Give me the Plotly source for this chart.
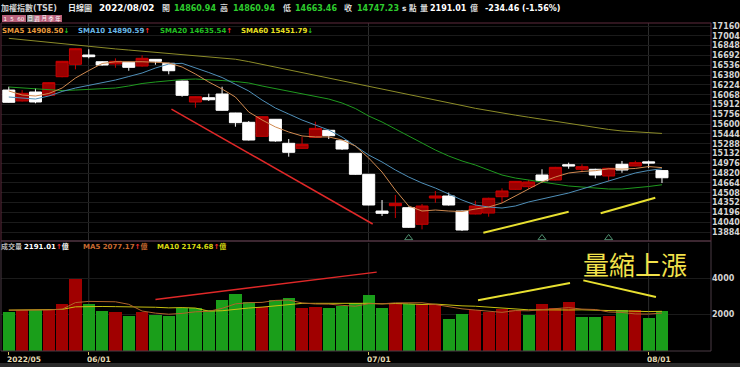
import plotly.graph_objects as go

# ---------------- data ----------------
dates = ["2022/05/24", "2022/05/25", "2022/05/26", "2022/05/27", "2022/05/30", "2022/05/31",
         "2022/06/01", "2022/06/02", "2022/06/06", "2022/06/07", "2022/06/08", "2022/06/09",
         "2022/06/10", "2022/06/13", "2022/06/14", "2022/06/15", "2022/06/16", "2022/06/17",
         "2022/06/20", "2022/06/21", "2022/06/22", "2022/06/23", "2022/06/24", "2022/06/27",
         "2022/06/28", "2022/06/29", "2022/06/30", "2022/07/01", "2022/07/04", "2022/07/05",
         "2022/07/06", "2022/07/07", "2022/07/08", "2022/07/11", "2022/07/12", "2022/07/13",
         "2022/07/14", "2022/07/15", "2022/07/18", "2022/07/19", "2022/07/20", "2022/07/21",
         "2022/07/22", "2022/07/25", "2022/07/26", "2022/07/27", "2022/07/28", "2022/07/29",
         "2022/08/01", "2022/08/02"]

opens = [16142, 15968, 16111, 16058, 16354, 16551, 16699, 16592, 16556, 16583,
         16524, 16630, 16567, 16285, 15952, 16020, 16079, 15777, 15629, 15406,
         15677, 15295, 15215, 15390, 15502, 15336, 15136, 14802, 14218, 14303,
         14271, 14007, 14425, 14457, 14218, 14171, 14186, 14446, 14563, 14605,
         14791, 14711, 14955, 14882, 14882, 14775, 14961, 14934, 15000, 14860.94]
highs = [16195, 16142, 16169, 16265, 16605, 16805, 16790, 16600, 16646, 16590,
         16694, 16635, 16575, 16290, 16040, 16084, 16195, 15780, 15650, 15725,
         15680, 15363, 15395, 15638, 15510, 15340, 15140, 14805, 14393, 14473,
         14290, 14330, 14537, 14510, 14225, 14382, 14430, 14579, 14695, 14711,
         14882, 14920, 14987, 14961, 14890, 14905, 15014, 15018, 15020, 14860.94]
lows = [15940, 15960, 15931, 16050, 16345, 16471, 16646, 16530, 16497, 16449,
        16515, 16545, 16392, 16036, 15861, 15968, 15815, 15559, 15340, 15400,
        15320, 15082, 15210, 15385, 15363, 15190, 14795, 14310, 14139, 14107,
        13950, 13927, 14350, 14305, 13900, 14165, 14128, 14350, 14555, 14568,
        14668, 14705, 14891, 14834, 14738, 14696, 14827, 14930, 14900, 14663.46]
closes = [15947, 16090, 15952, 16259, 16599, 16799, 16672, 16540, 16599, 16503,
          16646, 16599, 16449, 16058, 16036, 15988, 15820, 15623, 15347, 15718,
          15332, 15152, 15279, 15533, 15416, 15204, 14802, 14314, 14182, 14341,
          13959, 14298, 14457, 14314, 13916, 14298, 14421, 14537, 14690, 14680,
          14700, 14913, 14934, 14923, 14791, 14898, 14870, 14987, 14981.69, 14747.23]

sma5 = [16127, 16063, 16047, 16087, 16174, 16333, 16452, 16564, 16592, 16596,
        16592, 16583, 16572, 16508, 16397, 16270, 16158, 16031, 15793, 15666,
        15555, 15475, 15412, 15396, 15396, 15348, 15252, 15061, 14838, 14552,
        14298, 14218, 14234, 14218, 14210, 14250, 14282, 14346, 14457, 14568,
        14680, 14759, 14823, 14847, 14860, 14890, 14885, 14895, 14925, 14908.50]
sma10 = [16031, 16015, 15999, 16047, 16119, 16174, 16214, 16254, 16301, 16357,
         16413, 16492, 16556, 16567, 16500, 16421, 16341, 16238, 16127, 15983,
         15856, 15761, 15665, 15586, 15506, 15395, 15252, 15109, 14998, 14871,
         14759, 14664, 14584, 14489, 14393, 14314, 14282, 14266, 14298, 14362,
         14409, 14457, 14505, 14568, 14632, 14696, 14759, 14823, 14863, 14890.59]
sma20 = [16190, 16174, 16158, 16142, 16134, 16142, 16150, 16158, 16174, 16206,
         16246, 16270, 16293, 16309, 16317, 16309, 16293, 16278, 16254, 16206,
         16166, 16127, 16087, 16047, 15999, 15936, 15848, 15729, 15634, 15522,
         15411, 15300, 15188, 15093, 15014, 14950, 14870, 14791, 14743, 14711,
         14679, 14648, 14616, 14600, 14584, 14568, 14568, 14584, 14608, 14635.54]
sma60 = [16964, 16942, 16920, 16898, 16875, 16853, 16832, 16815, 16796, 16778,
         16759, 16742, 16723, 16705, 16686, 16669, 16650, 16632, 16594, 16551,
         16508, 16465, 16422, 16379, 16336, 16293, 16251, 16208, 16163, 16119,
         16074, 16030, 15985, 15941, 15896, 15851, 15812, 15777, 15743, 15710,
         15677, 15643, 15611, 15578, 15547, 15515, 15491, 15475, 15462, 15451.79]

volume = [2142, 2235, 2235, 2235, 2600, 3962, 2562, 2197, 2162, 1908,
          2126, 1980, 1908, 2380, 2343, 2271, 2780, 3143, 2707, 2416,
          2816, 2889, 2343, 2416, 2380, 2489, 2634, 3052, 2380, 2634,
          2598, 2562, 2562, 1780, 2053, 2271, 2162, 2325, 2271, 1980,
          2598, 2362, 2670, 1871, 1871, 1908, 2235, 2271, 1835, 2191.01]
vol_up = [0, 1, 0, 1, 1, 1, 0, 0, 1, 0,
          1, 0, 0, 0, 0, 0, 0, 0, 0, 1,
          0, 0, 1, 1, 0, 0, 0, 0, 0, 1,
          0, 1, 1, 0, 0, 1, 1, 1, 1, 0,
          1, 1, 1, 0, 0, 1, 0, 1, 0, 0]
vol_ma5 = [2235, 2235, 2240, 2250, 2289, 2653, 2719, 2711, 2697, 2558,
           2191, 2075, 2017, 2060, 2147, 2176, 2336, 2583, 2649, 2663,
           2772, 2794, 2634, 2576, 2569, 2503, 2452, 2594, 2587, 2638,
           2660, 2645, 2547, 2427, 2311, 2246, 2166, 2118, 2216, 2202,
           2267, 2307, 2376, 2296, 2274, 2136, 2111, 2031, 2024, 2077.17]
vol_ma10 = [2240, 2240, 2245, 2250, 2280, 2420, 2450, 2440, 2430, 2424,
            2422, 2397, 2364, 2379, 2353, 2184, 2206, 2300, 2355, 2405,
            2474, 2565, 2609, 2612, 2616, 2638, 2623, 2614, 2582, 2603,
            2582, 2549, 2571, 2507, 2474, 2453, 2405, 2333, 2322, 2256,
            2256, 2236, 2247, 2256, 2238, 2202, 2209, 2204, 2160, 2174.68]

price_ticks = [13884, 14040, 14196, 14352, 14508, 14664, 14820, 14976, 15132, 15288, 15444,
               15600, 15756, 15912, 16068, 16224, 16380, 16536, 16692, 16848, 17004, 17160]
volume_ticks = [2000, 4000]
date_tick_dates = ["2022/05/24", "2022/06/01", "2022/07/01", "2022/08/01"]
date_tick_labels = ["2022/05", "06/01", "07/01", "08/01"]
grid_dates = ["2022/06/01", "2022/07/01", "2022/08/01"]
marker_dates = ["2022/07/06", "2022/07/20", "2022/07/27"]
marker_price = [13790, 13790, 13790]

# hand-drawn annotation lines (index, value)
price_red_x, price_red_y = [12.2, 27.3], [15840, 14012]
price_yel1_x, price_yel1_y = [35.6, 42.0], [13873, 14207]
price_yel2_x, price_yel2_y = [44.4, 48.5], [14182, 14430]
vol_red_x, vol_red_y = [11.0, 27.6], [2818, 4322]
vol_yel1_x, vol_yel1_y = [35.2, 42.1], [2780, 3722]
vol_yel2_x, vol_yel2_y = [43.1, 48.55], [3870, 2959]
note_text = "量縮上漲"
note_x, note_y = 46.95, 4796

# ---------------- figure ----------------
W, H = 740, 367
ML, MR, MT, MB = 1, 29, 23, 16
PW, PH = W - ML - MR, H - MT - MB
idx = list(range(len(dates)))
pos = {d: i for i, d in enumerate(dates)}


def pxx(px):
    return (px - ML) / PW


def pxy(py):
    return (H - MB - py) / PH


price_dom = [pxy(241), 1]
vol_dom = [0, pxy(243)]

RED_BODY = "#9a0000"
RED_LINE = "#c80000"
GREEN_VOL = "#1a9e1a"
RED_VOL = "#a00000"
FONT = "DejaVu Sans, Noto Sans CJK TC"

fig = go.Figure()

fig.add_trace(go.Candlestick(
    x=idx, open=opens, high=highs, low=lows, close=closes,
    increasing=dict(line=dict(color=RED_LINE, width=1), fillcolor=RED_BODY),
    decreasing=dict(line=dict(color="#ffffff", width=1), fillcolor="#ffffff"),
    whiskerwidth=0, xaxis="x", yaxis="y", showlegend=False, hoverinfo="skip"))

for vals, col in [(sma60, "#8c8c28"), (sma20, "#1f9a1f"), (sma10, "#4f8fb8"), (sma5, "#d08a50")]:
    fig.add_trace(go.Scatter(x=idx, y=vals, mode="lines", line=dict(color=col, width=1),
                             xaxis="x", yaxis="y", showlegend=False, hoverinfo="skip"))

fig.add_trace(go.Scatter(x=[pos[d] for d in marker_dates], y=marker_price, mode="markers",
                         marker=dict(symbol="triangle-up-open", size=7, color="#4f8f6f",
                                     line=dict(width=1, color="#4f8f6f")),
                         xaxis="x", yaxis="y", showlegend=False, hoverinfo="skip"))

for xs, ys, col, w in [(price_red_x, price_red_y, "#e02828", 1.5),
                       (price_yel1_x, price_yel1_y, "#e8e030", 2),
                       (price_yel2_x, price_yel2_y, "#e8e030", 2)]:
    fig.add_trace(go.Scatter(x=xs, y=ys, mode="lines", line=dict(color=col, width=w),
                             xaxis="x", yaxis="y", showlegend=False, hoverinfo="skip"))

fig.add_trace(go.Bar(x=idx, y=volume, width=0.92,
                     marker=dict(color=[RED_VOL if u else GREEN_VOL for u in vol_up], line=dict(width=0)),
                     xaxis="x2", yaxis="y2", showlegend=False, hoverinfo="skip"))
for vals, col in [(vol_ma10, "#c8c010"), (vol_ma5, "#b0642a")]:
    fig.add_trace(go.Scatter(x=idx, y=vals, mode="lines", line=dict(color=col, width=1),
                             xaxis="x2", yaxis="y2", showlegend=False, hoverinfo="skip"))
for xs, ys, col, w in [(vol_red_x, vol_red_y, "#e02828", 1.5),
                       (vol_yel1_x, vol_yel1_y, "#e8e030", 2),
                       (vol_yel2_x, vol_yel2_y, "#e8e030", 2)]:
    fig.add_trace(go.Scatter(x=xs, y=ys, mode="lines", line=dict(color=col, width=w),
                             xaxis="x2", yaxis="y2", showlegend=False, hoverinfo="skip"))

xr = [-(8.8 - ML) / 13.33, -(8.8 - ML) / 13.33 + PW / 13.33]
grid_idx = [pos[d] for d in grid_dates]
tickfont = dict(family="DejaVu Sans", size=8, color="#d4d4d4", weight="bold")

fig.update_layout(
    width=W, height=H, margin=dict(l=ML, r=MR, t=MT, b=MB, pad=0),
    paper_bgcolor="#000000", plot_bgcolor="#000000",
    font=dict(family=FONT, color="#d0d0d0"),
    template="none", showlegend=False, boxgap=0.1, boxgroupgap=0, bargap=0,
    xaxis=dict(domain=[0, 1], range=xr, anchor="y", showticklabels=False, ticks="",
               tickvals=grid_idx, showgrid=True, gridcolor="#2c2c2c", gridwidth=1,
               zeroline=False, showline=False, rangeslider=dict(visible=False), fixedrange=True),
    xaxis2=dict(domain=[0, 1], range=xr, anchor="y2", showticklabels=False,
                tickvals=[pos[d] for d in date_tick_dates], ticks="outside", ticklen=3,
                tickcolor="#d8c060", tickwidth=1, showgrid=False, zeroline=False, showline=False),
    yaxis=dict(domain=price_dom, range=[13741.5, 17208], side="right", anchor="x",
               tickvals=price_ticks, ticktext=[str(v) for v in price_ticks], ticks="",
               tickfont=tickfont, showgrid=True, gridcolor="#1b1b1b", zeroline=False,
               showline=False, automargin=False),
    yaxis2=dict(domain=vol_dom, range=[0, 5918], side="right", anchor="x2",
                tickvals=volume_ticks, ticktext=[str(v) for v in volume_ticks], ticks="",
                tickfont=tickfont, showgrid=True, gridcolor="#1b1b1b", zeroline=False,
                showline=False, automargin=False),
)

# grid lines in volume panel at month starts
shapes = []
for gi in grid_idx:
    shapes.append(dict(type="line", xref="x2", yref="paper", x0=gi, x1=gi, y0=0, y1=vol_dom[1],
                       line=dict(color="#2c2c2c", width=1), layer="below"))
# panel frames
shapes.append(dict(type="rect", xref="paper", yref="paper", x0=0, x1=1, y0=price_dom[0], y1=1,
                   line=dict(color="#5e2a3c", width=1)))
shapes.append(dict(type="rect", xref="paper", yref="paper", x0=0, x1=1, y0=0, y1=price_dom[0],
                   line=dict(color="#4a3a44", width=1)))
shapes.append(dict(type="rect", xref="paper", yref="paper", x0=pxx(0), x1=pxx(740), y0=pxy(367), y1=pxy(363),
                   line=dict(width=0), fillcolor="#2a2a2a"))
fig.update_layout(shapes=shapes)

ann = []


def txt(px, py, text, color="#d0d0d0", size=9, bold=True, family=FONT):
    t = f"<b>{text}</b>" if bold else text
    ann.append(dict(xref="paper", yref="paper", x=pxx(px), y=pxy(py), text=t, showarrow=False,
                    xanchor="left", yanchor="middle", borderpad=0, borderwidth=0,
                    font=dict(family=family, size=size, color=color)))


def arrow(cur, prev):
    return ("<span style='color:#ff3030'>↑</span>" if cur > prev
            else "<span style='color:#22c022'>↓</span>")


GREEN_TXT = "#2ecc2e"
chg = closes[-1] - closes[-2]
# header row 1
txt(1, 8, "加權指數(TSE)", "#d0d0d0", 8)
txt(68, 8, "日線圖", "#e8e8e8", 8)
txt(99, 8, dates[-1], "#ffffff", 8.8)
txt(162, 8, "開", "#d8d8d8", 8)
txt(174, 8, f"{opens[-1]:.2f}", GREEN_TXT, 8)
txt(220, 8, "高", "#d8d8d8", 8)
txt(233, 8, f"{highs[-1]:.2f}", GREEN_TXT, 8)
txt(283, 8, "低", "#d8d8d8", 8)
txt(295, 8, f"{lows[-1]:.2f}", GREEN_TXT, 8)
txt(344, 8, "收", "#d8d8d8", 8)
txt(357, 8, f"{closes[-1]:.2f}", GREEN_TXT, 8)
txt(402, 8, "s 點", "#e0e0e0", 7.5)
txt(420, 8, "量", "#d8d8d8", 8)
txt(430, 8, f"{volume[-1]:.2f}", "#ffffff", 8)
txt(470, 8, "億", "#d8d8d8", 8)
txt(485, 8, f"{chg:.2f} ({chg / closes[-2] * 100:.2f}%)", "#ffffff", 8)

# small period buttons (row 2)
bx = 2
for lab, bg in [("1", "#b8607a"), ("5", "#b8607a"), ("60", "#b8607a"), ("日", "#8a8a8a"),
                ("週", "#b8607a"), ("月", "#b8607a"), ("季", "#b8607a"), ("年", "#b8607a")]:
    w = 10 if lab == "60" else 6.5
    ann.append(dict(xref="paper", yref="paper", x=pxx(bx), y=pxy(18.5), text=lab, showarrow=False,
                    xanchor="left", yanchor="middle", borderpad=0, borderwidth=0, bgcolor=bg,
                    width=w, height=7, font=dict(family=FONT, size=5.5, color="#ffffff")))
    bx += w + 0.5

# SMA legend row
for px, name, vals, col in [(2, "SMA5", sma5, "#e89a3c"), (78, "SMA10", sma10, "#68b8e8"),
                            (160, "SMA20", sma20, "#22c022"), (241, "SMA60", sma60, "#e8e020")]:
    txt(px, 31, f"{name} {vals[-1]:.2f}{arrow(vals[-1], vals[-2])}", col, 7)

# volume legend row
txt(1, 246.5, "成交量", "#b8b8b8", 7)
txt(24, 246.5, f"{volume[-1]:.2f}{arrow(volume[-1], volume[-2])}億", "#ffffff", 7)
txt(83, 246.5, f"MA5 {vol_ma5[-1]:.2f}{arrow(vol_ma5[-1], vol_ma5[-2])}億", "#c86a30", 7)
txt(157, 246.5, f"MA10 {vol_ma10[-1]:.2f}{arrow(vol_ma10[-1], vol_ma10[-2])}億", "#d8d810", 7)

# x date labels
for d, lab in zip(date_tick_dates, date_tick_labels):
    ann.append(dict(xref="x2", yref="paper", x=pos[d], y=pxy(359), text=f"<b>{lab}</b>", showarrow=False,
                    xanchor="left", yanchor="middle", xshift=-2, borderpad=0, borderwidth=0,
                    font=dict(family="DejaVu Sans", size=7.5, color="#e6dcb4")))

# note text
ann.append(dict(xref="x2", yref="y2", x=note_x, y=note_y, text=note_text, showarrow=False,
                xanchor="center", yanchor="middle",
                font=dict(family="Noto Sans CJK TC", size=26, color="#f2e24a")))

fig.update_layout(annotations=ann)
fig.write_html("out.html", config={"displayModeBar": False, "staticPlot": True},
               post_script="document.body.style.margin='0';document.body.style.padding='0';"
                           "document.body.style.overflow='hidden';"
                           "document.documentElement.style.background='#000';")
